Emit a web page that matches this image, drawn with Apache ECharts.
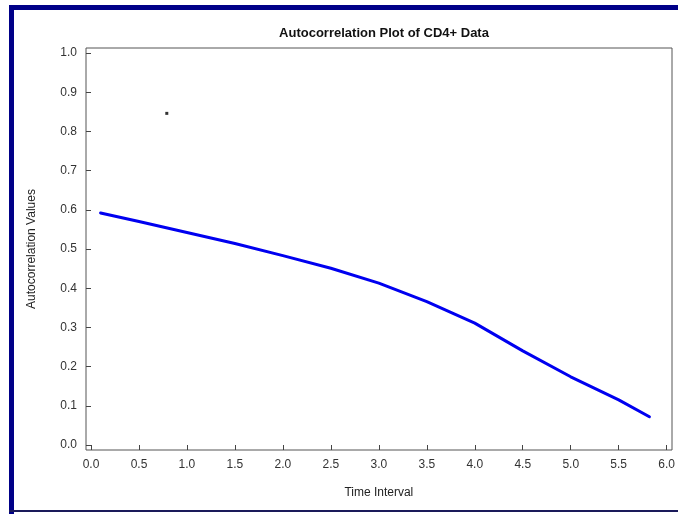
<!DOCTYPE html>
<html>
<head>
<meta charset="utf-8">
<script src="https://cdn.jsdelivr.net/npm/echarts@6/dist/echarts.min.js"></script>
<style>
  html, body { margin: 0; padding: 0; background: #fff; }
  #chart { width: 678px; height: 514px; }
</style>
</head>
<body>
<div id="chart"></div>
<script>
// autocorrelation curve
var timeInterval = [0.1, 0.5, 1.0, 1.5, 2.0, 2.5, 3.0, 3.5, 4.0, 4.5, 5.0, 5.5, 5.82]
var acValues = [0.592, 0.570, 0.542, 0.514, 0.483, 0.451, 0.413, 0.366, 0.311, 0.240, 0.174, 0.115, 0.072]
// the lone dot in the upper left
var strayPoint = [[0.79, 0.846]]

var xTicks = [0, 0.5, 1, 1.5, 2, 2.5, 3, 3.5, 4, 4.5, 5, 5.5, 6]
var yTicks = [0, 0.1, 0.2, 0.3, 0.4, 0.5, 0.6, 0.7, 0.8, 0.9, 1.0]

var curve = timeInterval.map(function (t, i) { return [t, acValues[i]] })
var font = '"Liberation Sans", Arial, sans-serif'

var chart = echarts.init(document.getElementById('chart'))
chart.setOption({
  backgroundColor: '#fff',
  animation: false,
  title: {
    text: 'Autocorrelation Plot of CD4+ Data',
    left: 379,
    textAlign: 'center',
    top: 22,
    textStyle: { fontFamily: font, fontSize: 13, fontWeight: 'bold', color: '#111' }
  },
  grid: { left: 91, right: 11, top: 53, bottom: 69 },
  xAxis: {
    type: 'value',
    min: xTicks[0],
    max: xTicks[xTicks.length - 1],
    interval: 0.5,
    offset: 5,
    name: 'Time Interval',
    nameLocation: 'middle',
    nameGap: 37,
    nameTextStyle: { fontFamily: font, fontSize: 12, color: '#222' },
    axisLine: { show: false },
    axisTick: { show: true, inside: false, length: 5, lineStyle: { color: '#444' } },
    splitLine: { show: false },
    axisLabel: {
      margin: 9,
      fontFamily: font, fontSize: 12, color: '#333',
      formatter: function (v) { return v.toFixed(1) }
    }
  },
  yAxis: {
    type: 'value',
    min: yTicks[0],
    max: yTicks[yTicks.length - 1],
    interval: 0.1,
    offset: 5,
    name: 'Autocorrelation Values',
    nameLocation: 'middle',
    nameGap: 48,
    nameRotate: 90,
    nameTextStyle: { fontFamily: font, fontSize: 12, color: '#222' },
    axisLine: { show: false },
    axisTick: { show: true, inside: false, length: 5, lineStyle: { color: '#444' } },
    splitLine: { show: false },
    axisLabel: {
      margin: 9,
      fontFamily: font, fontSize: 12, color: '#333',
      formatter: function (v) { return v.toFixed(1) }
    }
  },
  graphic: [
    // plot frame
    { type: 'rect', shape: { x: 86, y: 48, width: 586, height: 402 },
      style: { fill: 'none', stroke: '#555', lineWidth: 1 }, silent: true },
    // navy page border
    { type: 'rect', shape: { x: 9, y: 5, width: 5, height: 509 }, style: { fill: '#000088' }, silent: true },
    { type: 'rect', shape: { x: 9, y: 5, width: 669, height: 5 }, style: { fill: '#000088' }, silent: true },
    { type: 'rect', shape: { x: 9, y: 510, width: 669, height: 2 }, style: { fill: '#1a1a5a' }, silent: true }
  ],
  series: [
    {
      type: 'line',
      data: curve,
      smooth: false,
      showSymbol: false,
      lineStyle: { color: '#0000f0', width: 3, join: 'round', cap: 'round' }
    },
    {
      type: 'scatter',
      data: strayPoint,
      symbol: 'rect',
      symbolSize: 3,
      itemStyle: { color: '#000' }
    }
  ]
})
</script>
</body>
</html>
